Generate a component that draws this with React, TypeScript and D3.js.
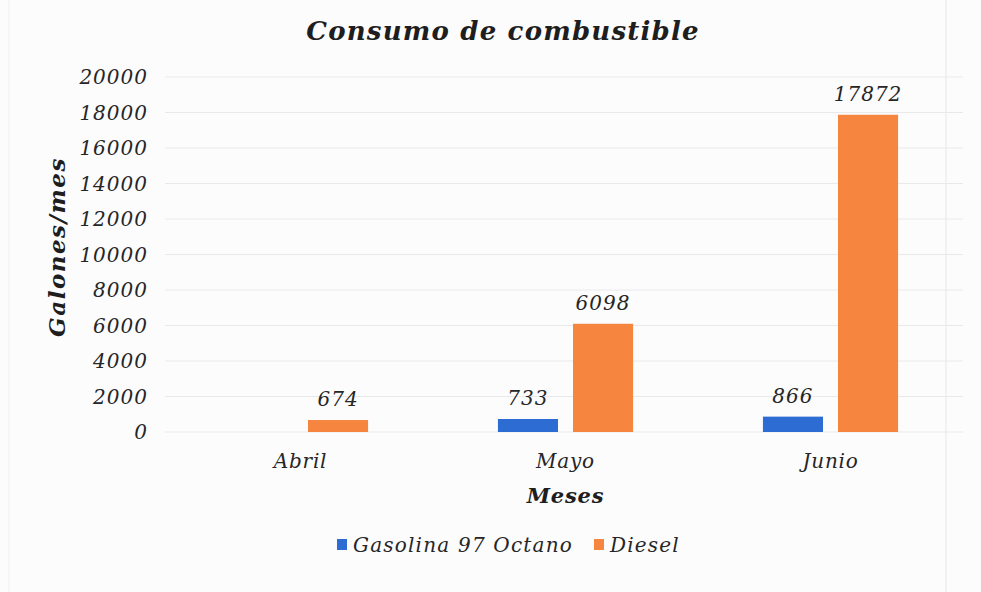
import React, { useEffect, useRef } from "react";
import * as d3 from "d3";

const months = ["Abril", "Mayo", "Junio"];
const seriesNames = ["Gasolina 97 Octano", "Diesel"];
const gasolina = [null, 733, 866];
const diesel = [674, 6098, 17872];
const yTicks = [0, 2000, 4000, 6000, 8000, 10000, 12000, 14000, 16000, 18000, 20000];
const colors = ["#2D6CD2", "#F5853F"];

const App = () => {
    const svgRef = useRef<SVGSVGElement>(null);

    useEffect(() => {
        const svg = d3.select(svgRef.current);
        svg.selectAll("*").remove();

        const width = 981;
        const height = 592;
        const margin = { top: 77, right: 18, bottom: 160, left: 168 };
        const font = "'DejaVu Serif', serif";

        svg.append("rect").attr("width", width).attr("height", height).attr("fill", "#FDFCFD");

        // faint page edges from the scan
        svg.append("line").attr("x1", 946).attr("x2", 946).attr("y1", 0).attr("y2", height)
            .attr("stroke", "#E6E6EA").attr("stroke-width", 1);
        svg.append("line").attr("x1", 9).attr("x2", 9).attr("y1", 0).attr("y2", height)
            .attr("stroke", "#EFEFF2").attr("stroke-width", 1);

        const x0 = d3.scaleBand()
            .domain(months)
            .range([margin.left, width - margin.right])
            .paddingInner(0.49)
            .paddingOuter(0.245);

        const x1 = d3.scaleBand()
            .domain(seriesNames)
            .range([0, x0.bandwidth()])
            .paddingInner(0.2);

        const y = d3.scaleLinear()
            .domain([0, 20000])
            .range([height - margin.bottom, margin.top]);

        // gridlines
        svg.append("g")
            .selectAll("line")
            .data(yTicks)
            .enter()
            .append("line")
            .attr("x1", 165)
            .attr("x2", 963)
            .attr("y1", (d) => y(d))
            .attr("y2", (d) => y(d))
            .attr("stroke", "#E9E9EC")
            .attr("stroke-width", 1);

        // y tick labels
        svg.append("g")
            .selectAll("text")
            .data(yTicks)
            .enter()
            .append("text")
            .attr("x", 148)
            .attr("y", (d) => y(d))
            .attr("dy", "0.36em")
            .attr("text-anchor", "end")
            .style("font-family", font)
            .style("font-style", "italic")
            .style("font-size", "20px")
            .style("letter-spacing", "1px")
            .style("fill", "#262626")
            .text((d) => String(d));

        const data = months.map((m, i) => ({ month: m, values: [gasolina[i], diesel[i]] }));

        const groups = svg.append("g")
            .selectAll("g")
            .data(data)
            .enter()
            .append("g")
            .attr("transform", (d) => `translate(${x0(d.month)},0)`);

        const bars = groups.selectAll("g")
            .data((d) => d.values.map((v, j) => ({ name: seriesNames[j], value: v, color: colors[j] })).filter((e) => e.value !== null))
            .enter()
            .append("g");

        bars.append("rect")
            .attr("x", (d) => x1(d.name))
            .attr("y", (d) => y(d.value))
            .attr("width", x1.bandwidth())
            .attr("height", (d) => y(0) - y(d.value))
            .attr("fill", (d) => d.color);

        bars.append("text")
            .attr("x", (d) => x1(d.name) + x1.bandwidth() / 2)
            .attr("y", (d) => y(d.value) - 14)
            .attr("text-anchor", "middle")
            .style("font-family", font)
            .style("font-style", "italic")
            .style("font-size", "20px")
            .style("letter-spacing", "1px")
            .style("fill", "#262626")
            .text((d) => String(d.value));

        // category labels
        svg.append("g")
            .selectAll("text")
            .data(months)
            .enter()
            .append("text")
            .attr("x", (d) => x0(d) + x0.bandwidth() / 2)
            .attr("y", 468)
            .attr("text-anchor", "middle")
            .style("font-family", font)
            .style("font-style", "italic")
            .style("font-size", "20px")
            .style("letter-spacing", "0.8px")
            .style("fill", "#262626")
            .text((d) => d);

        // title
        svg.append("text")
            .attr("x", 503)
            .attr("y", 40)
            .attr("text-anchor", "middle")
            .style("font-family", font)
            .style("font-style", "italic")
            .style("font-weight", "bold")
            .style("font-size", "26px")
            .style("letter-spacing", "1.2px")
            .style("fill", "#1E1E1E")
            .text("Consumo de combustible");

        // axis titles
        svg.append("text")
            .attr("transform", "translate(65,247) rotate(-90)")
            .attr("text-anchor", "middle")
            .style("font-family", font)
            .style("font-style", "italic")
            .style("font-weight", "bold")
            .style("font-size", "23px")
            .style("letter-spacing", "1.5px")
            .style("fill", "#1E1E1E")
            .text("Galones/mes");

        svg.append("text")
            .attr("x", (margin.left + width - margin.right) / 2)
            .attr("y", 503)
            .attr("text-anchor", "middle")
            .style("font-family", font)
            .style("font-style", "italic")
            .style("font-weight", "bold")
            .style("font-size", "21px")
            .style("letter-spacing", "0.8px")
            .style("fill", "#1E1E1E")
            .text("Meses");

        // legend
        const legendX = [337, 594];
        const legend = svg.append("g");
        seriesNames.forEach((name, i) => {
            legend.append("rect")
                .attr("x", legendX[i])
                .attr("y", 539)
                .attr("width", 10)
                .attr("height", 11)
                .attr("fill", colors[i]);
            legend.append("text")
                .attr("x", legendX[i] + 16)
                .attr("y", 552)
                .style("font-family", font)
                .style("font-style", "italic")
                .style("font-size", "20px")
                .style("letter-spacing", "1.2px")
                .style("fill", "#262626")
                .text(name);
        });
    }, []);

    return (
        <svg
            ref={svgRef}
            width={981}
            height={592}
            style={{ position: "absolute", left: 0, top: 0 }}
        ></svg>
    );
};

export default App;
